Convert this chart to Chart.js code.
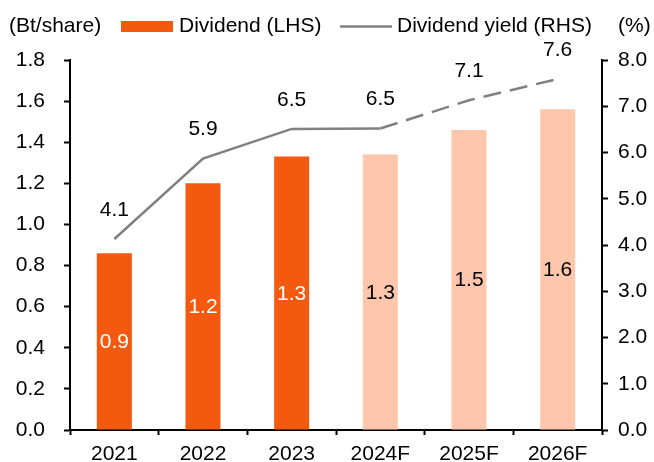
<!DOCTYPE html>
<html>
<head>
<meta charset="utf-8">
<script src="https://cdn.jsdelivr.net/npm/chart.js@4.4.0/dist/chart.umd.min.js"></script>
<style>
  html, body { margin: 0; padding: 0; background: #fff; }
  #wrap { width: 654px; height: 462px; }
</style>
</head>
<body>
<div id="wrap"><canvas id="chart" width="654" height="462"></canvas></div>
<script>
// values
var years = ['2021', '2022', '2023', '2024F', '2025F', '2026F'];
var dividend = [0.86, 1.2, 1.33, 1.34, 1.46, 1.56];      // Bt/share, LHS
var divYield = [4.13, 5.87, 6.51, 6.52, 7.13, 7.59];     // %, RHS
var isForecast = [false, false, false, true, true, true];
var leftAxis = { min: 0, max: 1.8, step: 0.2 };
var rightAxis = { min: 0, max: 8, step: 1 };

var ORANGE = '#f45a0f';
var PEACH = '#fec6ab';
var GREY = '#808080';
var FONT = '"Liberation Sans", Arial, sans-serif';

Chart.defaults.font.family = FONT;
Chart.defaults.font.size = 21;
Chart.defaults.color = '#000';

var valueLabels = {
  id: 'valueLabels',
  afterDatasetsDraw: function(chart) {
    var ctx = chart.ctx;
    ctx.save();
    ctx.font = '21px ' + FONT;
    ctx.textAlign = 'center';
    ctx.textBaseline = 'middle';
    chart.getDatasetMeta(0).data.forEach(function(bar, i) {
      ctx.fillStyle = isForecast[i] ? '#000' : '#fff';
      ctx.fillText(dividend[i].toFixed(1), bar.x, (bar.y + bar.base) / 2 + 1);
    });
    ctx.fillStyle = '#000';
    chart.getDatasetMeta(1).data.forEach(function(pt, i) {
      ctx.fillText(divYield[i].toFixed(1), pt.x, pt.y - 29);
    });
    ctx.restore();
  }
};

var header = {
  id: 'header',
  afterDraw: function(chart) {
    var ctx = chart.ctx;
    ctx.save();
    ctx.font = '21px ' + FONT;
    ctx.textBaseline = 'middle';
    ctx.fillStyle = '#000';
    ctx.textAlign = 'left';
    ctx.fillText('(Bt/share)', 9, 26);
    ctx.fillStyle = ORANGE;
    ctx.fillRect(121, 21, 52, 11);
    ctx.fillStyle = '#000';
    ctx.fillText('Dividend (LHS)', 179, 26);
    ctx.strokeStyle = GREY;
    ctx.lineWidth = 2.5;
    ctx.beginPath();
    ctx.moveTo(340, 26.5);
    ctx.lineTo(392, 26.5);
    ctx.stroke();
    ctx.fillText('Dividend yield (RHS)', 397, 26);
    ctx.fillText('(%)', 618, 26);
    ctx.restore();
  }
};

function axisStyle(tickLen) {
  return {
    border: { color: '#000', width: 2 },
    grid: { drawOnChartArea: false, tickLength: tickLen, tickColor: '#000', tickWidth: 2 }
  };
}

var yLeft = Object.assign(axisStyle(6), {
  position: 'left',
  min: leftAxis.min, max: leftAxis.max,
  ticks: { stepSize: leftAxis.step, padding: 19, callback: function(v) { return v.toFixed(1); } },
  afterFit: function(s) { s.width = 70; }
});
var yRight = Object.assign(axisStyle(6), {
  position: 'right',
  min: rightAxis.min, max: rightAxis.max,
  ticks: { stepSize: rightAxis.step, padding: 10, callback: function(v) { return v.toFixed(1); } },
  afterFit: function(s) { s.width = 52; }
});
var xAxis = Object.assign(axisStyle(5), {
  ticks: { padding: 7 },
  afterFit: function(s) { s.height = 32; }
});
xAxis.grid.offset = true;

new Chart(document.getElementById('chart'), {
  type: 'bar',
  data: {
    labels: years,
    datasets: [{
      type: 'bar',
      data: dividend,
      yAxisID: 'y',
      backgroundColor: isForecast.map(function(f) { return f ? PEACH : ORANGE; }),
      borderWidth: 0,
      categoryPercentage: 1,
      barPercentage: 0.395,
      order: 2
    }, {
      type: 'line',
      data: divYield,
      yAxisID: 'y1',
      borderColor: GREY,
      borderWidth: 2.5,
      pointRadius: 0,
      fill: false,
      tension: 0,
      order: 1,
      segment: {
        borderDash: function(c) { return isForecast[c.p0DataIndex] ? [18, 9] : undefined; }
      }
    }]
  },
  options: {
    responsive: false,
    animation: false,
    layout: { padding: { top: 60, left: 0, right: 0, bottom: 0 } },
    plugins: { legend: { display: false }, tooltip: { enabled: false } },
    scales: { x: xAxis, y: yLeft, y1: yRight }
  },
  plugins: [valueLabels, header]
});
</script>
</body>
</html>
